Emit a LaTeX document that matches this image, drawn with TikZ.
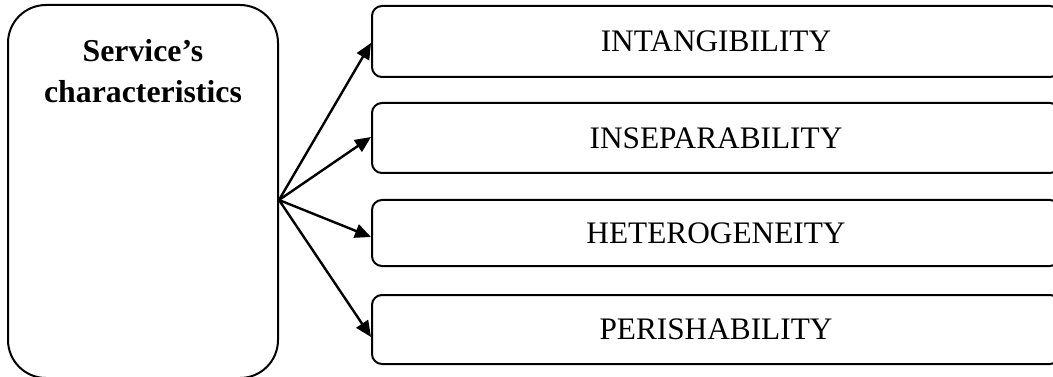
\documentclass[tikz,border=0pt]{standalone}
\usepackage{fontspec}
\setmainfont{Liberation Serif}
\usetikzlibrary{arrows.meta}
\begin{document}
\begin{tikzpicture}[x=1pt,y=-1pt,
  leftbox/.style={draw,line width=2pt,rounded corners=38pt,minimum width=270pt,minimum height=373pt,inner sep=0pt},
  charbox/.style={draw,line width=2pt,rounded corners=10pt,minimum width=688pt,inner sep=0pt,
    font=\fontsize{31.3}{38}\selectfont},
  arr/.style={line width=2.4pt,-{Triangle[length=16pt,width=14pt]}}]
\useasboundingbox (0,0) rectangle (1053,377);
\clip (0,0) rectangle (1053,377);
\node[leftbox] (L) at (143,191.5) {};
\node[font=\bfseries\fontsize{31.8}{41}\selectfont,align=center,anchor=base] (Lt) at (143,103) {Service’s\\characteristics};
\node[charbox,minimum height=71pt] (b1) at (716,41.5) {INTANGIBILITY};
\node[charbox,minimum height=70pt] (b2) at (716,138) {INSEPARABILITY};
\node[charbox,minimum height=66pt] (b3) at (716,233) {HETEROGENEITY};
\node[charbox,minimum height=69pt] (b4) at (716,329.5) {PERISHABILITY};
\coordinate (o) at (279,200);
\coordinate (t1) at (371,43);
\coordinate (t2) at (371,137);
\coordinate (t3) at (371,237);
\coordinate (t4) at (371,337);
\draw[arr] (o) -- (t1);
\draw[arr] (o) -- (t2);
\draw[arr] (o) -- (t3);
\draw[arr] (o) -- (t4);
\end{tikzpicture}
\end{document}
